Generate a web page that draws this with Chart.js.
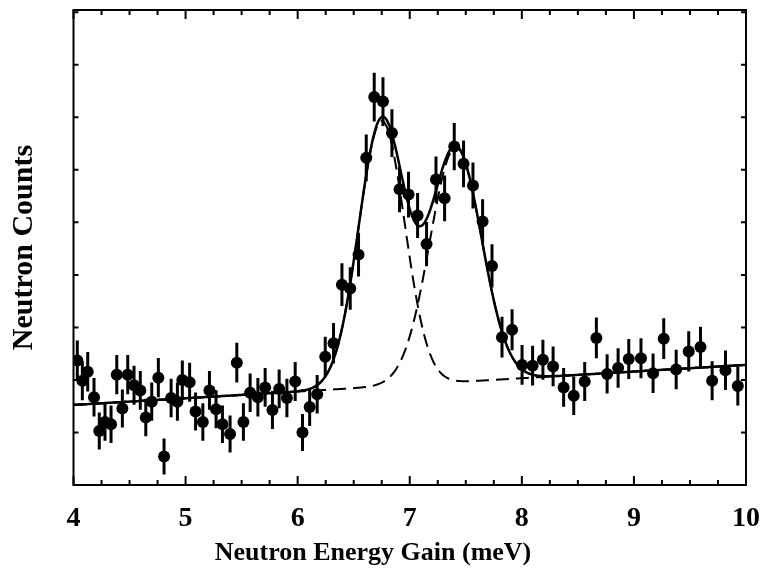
<!DOCTYPE html>
<html>
<head>
<meta charset="utf-8">
<script src="https://cdn.jsdelivr.net/npm/chart.js@4.4.1/dist/chart.umd.min.js"></script>
<style>
html, body { margin: 0; padding: 0; background: #fff; }
#wrap { width: 763px; height: 569px; }
</style>
</head>
<body>
<div id="wrap"><canvas id="neutronChart" width="763" height="569"></canvas></div>
<script>
// measured spectrum: energy gain (meV) and neutron counts per bin
const energy = [
  4.034, 4.079, 4.127, 4.183, 4.230, 4.281, 4.335, 4.386, 4.436, 4.484,
  4.540, 4.596, 4.645, 4.698, 4.757, 4.808, 4.871, 4.927, 4.971, 5.036,
  5.089, 5.154, 5.213, 5.272, 5.329, 5.397, 5.457, 5.516, 5.576, 5.645,
  5.710, 5.775, 5.835, 5.904, 5.978, 6.043, 6.107, 6.174, 6.246, 6.320,
  6.395, 6.469, 6.543, 6.612, 6.683, 6.761, 6.841, 6.909, 6.989, 7.070,
  7.150, 7.234, 7.311, 7.397, 7.480, 7.564, 7.650, 7.734, 7.823, 7.913,
  8.002, 8.096, 8.188, 8.279, 8.373, 8.463, 8.561, 8.665, 8.761, 8.859,
  8.954, 9.063, 9.171, 9.266, 9.377, 9.489, 9.594, 9.698, 9.817, 9.927
];
const counts = [
  706, 679, 691, 657, 612, 624, 621, 687, 642, 687,
  673, 666, 630, 651, 683, 578, 656, 651, 680, 677,
  638, 624, 666, 641, 621, 608, 703, 624, 663, 657,
  670, 640, 668, 656, 678, 610, 644, 661, 711, 729,
  807, 802, 847, 976, 1057, 1051, 1009, 934, 927, 899,
  861, 947, 922, 991, 968, 939, 891, 832, 737, 747,
  700, 699, 707, 698, 670, 659, 678, 736, 688, 696,
  708, 709, 689, 735, 694, 718, 724, 679, 693, 672
];

// axis layout
const xMin = 4, xMax = 10;
const xMajorStep = 1, xMinorStep = 0.25;
const yMin = 540, yMax = 1173;
const yTickStep = 70;

// two-gaussian fit on a sloping background
const bgAt4 = 646.7, bgSlope = 8.9;
const peakCentres = [6.75, 7.41];
const peakHeights = [354, 313];
const peakWidths = [0.206, 0.231];

function bg(e) { return bgAt4 + bgSlope * (e - 4); }
function peak(i, e) {
  const d = e - peakCentres[i];
  return peakHeights[i] * Math.exp(-d * d / (2 * peakWidths[i] * peakWidths[i]));
}

const fitX = [];
for (let k = 0; k <= 600; k++) fitX.push(xMin + k * (xMax - xMin) / 600);

const totalFit = fitX.map(e => ({ x: e, y: bg(e) + peak(0, e) + peak(1, e) }));
const firstPeak = fitX.map(e => ({ x: e, y: bg(e) + peak(0, e) }));
const secondPeak = fitX.map(e => ({ x: e, y: bg(e) + peak(1, e) }));
const measured = energy.map((e, i) => ({ x: e, y: counts[i] }));

const serif = "'Liberation Serif', 'Times New Roman', serif";

// poisson error bars, drawn under the markers
const errorBars = {
  id: 'errorBars',
  beforeDatasetsDraw(chart) {
    const { ctx, chartArea: a, scales: { x, y } } = chart;
    ctx.save();
    ctx.beginPath();
    ctx.rect(a.left, a.top, a.right - a.left, a.bottom - a.top);
    ctx.clip();
    ctx.strokeStyle = '#000';
    ctx.lineWidth = 3;
    energy.forEach((e, i) => {
      const n = counts[i];
      const err = Math.sqrt(n);
      const px = x.getPixelForValue(e);
      ctx.beginPath();
      ctx.moveTo(px, y.getPixelForValue(n + err));
      ctx.lineTo(px, y.getPixelForValue(n - err));
      ctx.stroke();
    });
    ctx.restore();
  }
};

// box frame with inward ticks on all four sides
const frame = {
  id: 'frame',
  afterDraw(chart) {
    const { ctx, chartArea: a, scales: { x, y } } = chart;
    ctx.save();
    ctx.strokeStyle = '#000';
    ctx.lineWidth = 2;
    ctx.strokeRect(a.left, a.top, a.right - a.left, a.bottom - a.top);
    ctx.beginPath();
    for (let v = xMin; v <= xMax + 1e-9; v += xMinorStep) {
      const px = x.getPixelForValue(v);
      const major = Math.abs(v - Math.round(v / xMajorStep) * xMajorStep) < 1e-6;
      const len = major ? 9 : 5;
      ctx.moveTo(px, a.bottom);
      ctx.lineTo(px, a.bottom - len);
      ctx.moveTo(px, a.top);
      ctx.lineTo(px, a.top + len);
    }
    for (let v = yMin; v <= yMax; v += yTickStep) {
      const py = y.getPixelForValue(v);
      ctx.moveTo(a.left, py);
      ctx.lineTo(a.left + 5, py);
      ctx.moveTo(a.right, py);
      ctx.lineTo(a.right - 5, py);
    }
    ctx.stroke();
    ctx.restore();
  }
};

new Chart(document.getElementById('neutronChart'), {
  type: 'scatter',
  data: {
    datasets: [
      {
        label: 'Peak 1',
        data: firstPeak,
        showLine: true,
        borderColor: '#000',
        borderWidth: 2,
        borderDash: [13, 7],
        pointRadius: 0
      },
      {
        label: 'Peak 2',
        data: secondPeak,
        showLine: true,
        borderColor: '#000',
        borderWidth: 2,
        borderDash: [13, 7],
        pointRadius: 0
      },
      {
        label: 'Fit',
        data: totalFit,
        showLine: true,
        borderColor: '#000',
        borderWidth: 2.5,
        pointRadius: 0
      },
      {
        label: 'Data',
        data: measured,
        pointRadius: 6,
        pointBackgroundColor: '#000',
        pointBorderWidth: 0,
        showLine: false
      }
    ]
  },
  options: {
    responsive: false,
    animation: false,
    devicePixelRatio: 1,
    layout: { padding: { top: 10, right: 17, left: 0, bottom: 0 } },
    plugins: {
      legend: { display: false },
      tooltip: { enabled: false },
      // x-axis caption, centred on the whole page
      title: {
        display: true,
        position: 'bottom',
        text: 'Neutron Energy Gain (meV)',
        color: '#000',
        font: { family: serif, size: 26, weight: 'bold' },
        padding: { top: 0, bottom: 0 }
      }
    },
    scales: {
      x: {
        type: 'linear',
        min: xMin,
        max: xMax,
        grid: { display: false },
        border: { display: false },
        ticks: {
          stepSize: xMajorStep,
          padding: 9,
          color: '#000',
          font: { family: serif, size: 28, weight: 'bold' }
        },
        afterFit(scale) {
          scale.height = 52.8;
          // the "10" label may hang past the frame into the margin
          scale.paddingLeft = 0;
          scale.paddingRight = 0;
        }
      },
      y: {
        type: 'linear',
        min: yMin,
        max: yMax,
        grid: { display: false },
        border: { display: false },
        ticks: { display: false },
        title: {
          display: true,
          text: 'Neutron Counts',
          color: '#000',
          font: { family: serif, size: 30, weight: 'bold' },
          padding: { top: 6, bottom: 0 }
        },
        afterFit(scale) { scale.width = 73.5; }
      }
    }
  },
  plugins: [errorBars, frame]
});
</script>
</body>
</html>
